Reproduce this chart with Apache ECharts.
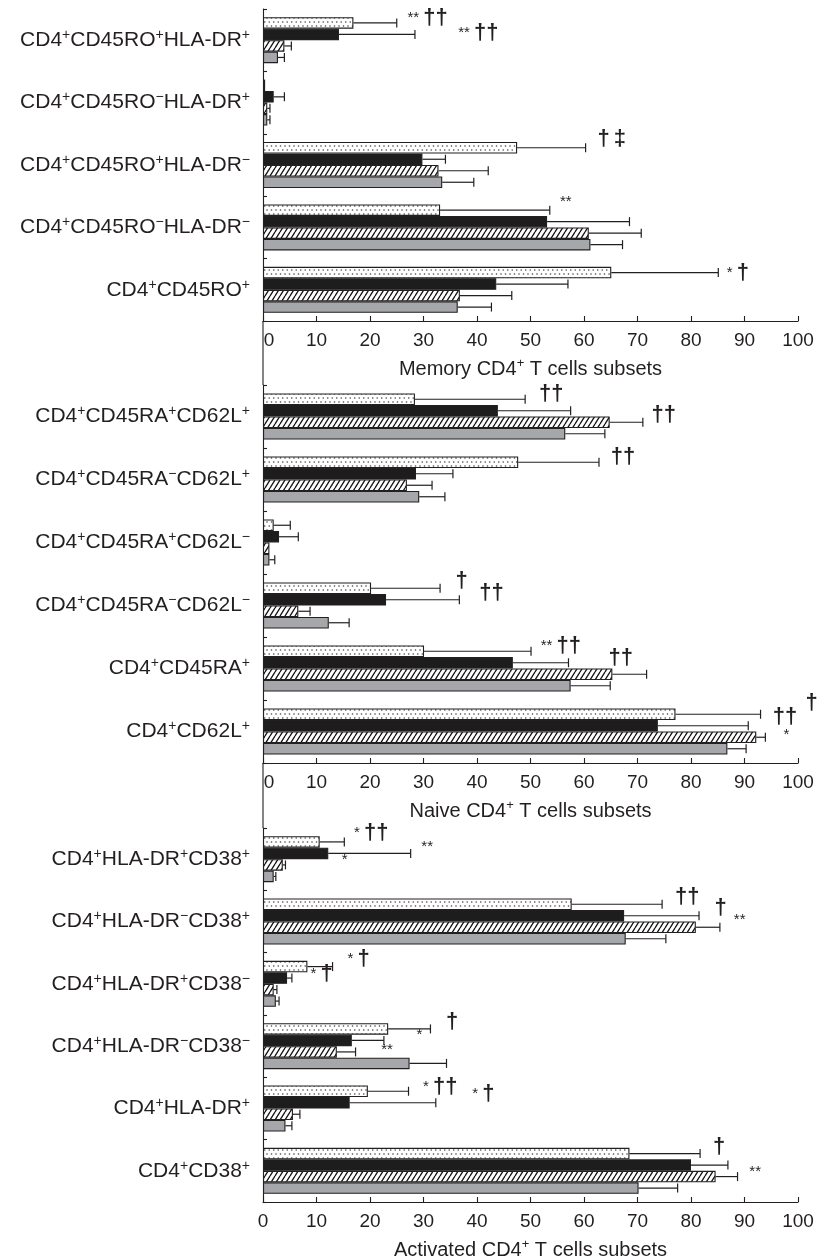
<!DOCTYPE html>
<html><head><meta charset="utf-8">
<script src="https://cdn.jsdelivr.net/npm/echarts@6/dist/echarts.min.js"></script>
<style>html,body{margin:0;padding:0;background:#fff}#c{width:819px;height:1260px}</style>
</head><body><div id="c"></div>
<script>
// ---------- DATA ----------
var xTicks = [0, 10, 20, 30, 40, 50, 60, 70, 80, 90, 100];

var memCats = ['CD4+CD45RO+HLA-DR+', 'CD4+CD45RO−HLA-DR+', 'CD4+CD45RO+HLA-DR−', 'CD4+CD45RO−HLA-DR−', 'CD4+CD45RO+'];
var memDotted   = [16.9, 0.4, 47.5, 33.1, 65.1];
var memBlack    = [14.2, 2.0, 29.8, 53.1, 43.6];
var memHatched  = [4.0, 0.8, 32.8, 60.9, 36.8];
var memGray     = [2.8, 0.8, 33.5, 61.2, 36.4];
var memDottedSD = [8.1, 0, 12.8, 20.5, 20.0];
var memBlackSD  = [14.2, 2.0, 4.3, 15.4, 13.4];
var memHatchedSD= [1.3, 0.5, 9.3, 9.8, 9.7];
var memGraySD   = [1.2, 0.5, 5.9, 6.0, 6.3];
var memNotes    = [[27, 0, -0.4], [36.5, 0, 0.9], [62.5, 2, -0.8], [55.5, 3, -0.7], [86.7, 4, 0]];
var memNoteText = ['** ††', '** ††', '† ‡', '**', '* †'];

var naiveCats = ['CD4+CD45RA+CD62L+', 'CD4+CD45RA−CD62L+', 'CD4+CD45RA+CD62L−', 'CD4+CD45RA−CD62L−', 'CD4+CD45RA+', 'CD4+CD62L+'];
var naiveDotted   = [28.4, 47.7, 2.0, 20.2, 30.1, 77.1];
var naiveBlack    = [43.9, 28.6, 3.0, 23.0, 46.7, 73.8];
var naiveHatched  = [64.8, 26.9, 1.2, 6.6, 65.3, 92.2];
var naiveGray     = [56.5, 29.2, 1.2, 12.3, 57.5, 86.8];
var naiveDottedSD = [20.6, 15.1, 3.1, 12.9, 20.0, 15.9];
var naiveBlackSD  = [13.6, 6.9, 3.6, 13.7, 10.4, 16.9];
var naiveHatchedSD= [6.2, 4.7, 0, 2.2, 6.4, 1.7];
var naiveGraySD   = [7.4, 4.8, 1.0, 3.8, 7.4, 3.5];
var naiveNotes    = [[51.6, 0, -0.5], [72.6, 0, 1.4], [65, 1, -0.5], [36, 3, -0.6], [40.4, 3, 0.45], [51.9, 4, -0.5], [64.6, 4, 0.6], [95.3, 5, 0.25], [101.4, 5, -0.95], [97.3, 5, 1.75]];
var naiveNoteText = ['††', '††', '††', '†', '††', '** ††', '††', '††', '†', '*'];

var actCats = ['CD4+HLA-DR+CD38+', 'CD4+HLA-DR−CD38+', 'CD4+HLA-DR+CD38−', 'CD4+HLA-DR−CD38−', 'CD4+HLA-DR+', 'CD4+CD38+'];
var actDotted   = [10.6, 57.7, 8.3, 23.4, 19.6, 68.5];
var actBlack    = [12.2, 67.5, 4.5, 16.6, 16.2, 80.0];
var actHatched  = [3.7, 80.9, 2.0, 13.8, 5.6, 84.6];
var actGray     = [2.0, 67.8, 2.4, 27.4, 4.2, 70.2];
var actDottedSD = [4.6, 16.9, 4.7, 7.9, 7.6, 13.2];
var actBlackSD  = [15.4, 14.0, 0.9, 6.0, 16.1, 6.9];
var actHatchedSD= [0.5, 4.5, 0.6, 3.5, 1.3, 4.1];
var actGraySD   = [0.4, 7.5, 0.6, 6.9, 1.2, 7.3];
var actNotes    = [[17, 0, -0.8], [29.6, 0, 0.4], [14.7, 0, 1.6], [77, 1, -0.6], [84.4, 1, 0.3], [88, 1, 1.4], [15.8, 2, -0.7], [8.9, 2, 0.6], [34.2, 3, -0.6], [28.7, 3, 0.5], [22.1, 3, 1.8], [29.9, 4, -0.35], [39.1, 4, 0.2], [84.1, 5, -0.6], [90.9, 5, 1.6]];
var actNoteText = ['* ††', '**', '*', '††', '†', '**', '* †', '* †', '†', '*', '**', '* ††', '* †', '†', '**'];

var memTitle = 'Memory CD4+ T cells subsets';
var naiveTitle = 'Naive CD4+ T cells subsets';
var actTitle = 'Activated CD4+ T cells subsets';

// ---------- STYLE / LAYOUT ----------
var FONT = '"Liberation Sans", Arial, Helvetica, sans-serif';
var INK = '#231f20';
var BW = 11.5;
var LEFT = 263, RIGHT = 21;
var sections = [
  {cats: memCats, vals: [memDotted, memBlack, memHatched, memGray], sd: [memDottedSD, memBlackSD, memHatchedSD, memGraySD], notes: memNotes, noteText: memNoteText, title: memTitle, top: 9, height: 312, shiftZero: true},
  {cats: naiveCats, vals: [naiveDotted, naiveBlack, naiveHatched, naiveGray], sd: [naiveDottedSD, naiveBlackSD, naiveHatchedSD, naiveGraySD], notes: naiveNotes, noteText: naiveNoteText, title: naiveTitle, top: 385, height: 378, shiftZero: true},
  {cats: actCats, vals: [actDotted, actBlack, actHatched, actGray], sd: [actDottedSD, actBlackSD, actHatchedSD, actGraySD], notes: actNotes, noteText: actNoteText, title: actTitle, top: 828, height: 374, shiftZero: false}
];

function makeDots() {
  var c = document.createElement('canvas'); c.width = 9; c.height = 8;
  var g = c.getContext('2d');
  g.fillStyle = '#fff'; g.fillRect(0, 0, 9, 8);
  g.fillStyle = '#444';
  [[1.5, 2], [6, 2], [3.75, 6], [8.25, 6]].forEach(function (p) { g.beginPath(); g.arc(p[0], p[1], 0.8, 0, Math.PI * 2); g.fill(); });
  return c;
}
function makeHatch() {
  var c = document.createElement('canvas'); c.width = 5; c.height = 8;
  var g = c.getContext('2d');
  g.fillStyle = '#fff'; g.fillRect(0, 0, 5, 8);
  g.strokeStyle = '#111'; g.lineWidth = 1.3;
  g.beginPath();
  [-5, 0, 5].forEach(function (o) { g.moveTo(o, 8); g.lineTo(o + 5, 0); });
  g.stroke();
  return c;
}
var fills = [{image: makeDots(), repeat: 'repeat'}, '#1d1d1d', {image: makeHatch(), repeat: 'repeat'}, '#a5a7aa'];

function supRich(s) {
  var out = '', buf = '';
  for (var i = 0; i < s.length; i++) {
    var ch = s[i];
    if (ch === '+' || ch === '−') {
      if (buf) { out += '{m|' + buf + '}'; buf = ''; }
      out += '{s|' + ch + '}';
    } else buf += ch;
  }
  if (buf) out += '{m|' + buf + '}';
  return out;
}
var labelRich = {
  m: {fontSize: 21, fontFamily: FONT, color: INK, lineHeight: 24},
  s: {fontSize: 14, fontFamily: FONT, color: INK, verticalAlign: 'top', lineHeight: 8}
};
var nameRich = {
  m: {fontSize: 20, fontFamily: FONT, color: INK, lineHeight: 24},
  s: {fontSize: 13, fontFamily: FONT, color: INK, verticalAlign: 'top', lineHeight: 8}
};
function noteRich(t) {
  return t.split(' ').map(function (tok) {
    return tok.indexOf('*') >= 0 ? '{a|' + tok + '}' : '{d|' + tok + '}';
  }).join('{a| }');
}
var noteRichStyle = {
  a: {fontSize: 15, fontFamily: FONT, fill: INK},
  d: {fontSize: 22, fontFamily: FONT, fontWeight: 'bold', fill: INK}
};

var grids = [], xAxes = [], yAxes = [], series = [], graphics = [];
sections.forEach(function (sec, i) {
  grids.push({left: LEFT, right: RIGHT, top: sec.top, height: sec.height, outerBoundsMode: 'none', containLabel: false});
  xAxes.push({
    type: 'value', gridIndex: i, min: xTicks[0], max: xTicks[xTicks.length - 1], interval: xTicks[1] - xTicks[0],
    axisLine: {show: true, lineStyle: {color: INK, width: 1.1}},
    axisTick: {show: true, inside: true, length: 5, lineStyle: {color: INK, width: 1.1}},
    splitLine: {show: false},
    axisLabel: {
      fontSize: 19, fontFamily: FONT, color: INK, margin: 10,
      formatter: (function (shift) { return function (v) { return (shift && v === 0) ? '{z|0}' : String(v); }; })(sec.shiftZero),
      rich: {z: {fontSize: 19, fontFamily: FONT, color: INK, padding: [0, 0, 0, 12]}}
    },
    name: supRich(sec.title), nameLocation: 'middle', nameGap: 36,
    nameTextStyle: {rich: nameRich}
  });
  yAxes.push({
    type: 'category', gridIndex: i, data: sec.cats, inverse: true,
    axisLine: {show: true, lineStyle: {color: INK, width: 1.1}},
    axisTick: {show: true, inside: true, length: 4, lineStyle: {color: INK, width: 1.1}},
    axisLabel: {margin: 13, formatter: supRich, rich: labelRich},
    splitLine: {show: false}
  });
  for (var j = 0; j < 4; j++) {
    series.push({
      type: 'bar', xAxisIndex: i, yAxisIndex: i, data: sec.vals[j], barWidth: BW, barGap: '0%',
      itemStyle: {color: fills[j], borderColor: INK, borderWidth: 1.1}, silent: true, z: 2
    });
  }
  var errData = [];
  for (var j2 = 0; j2 < 4; j2++) {
    for (var k = 0; k < sec.cats.length; k++) {
      if (sec.sd[j2][k] > 0) errData.push([sec.vals[j2][k], sec.vals[j2][k] + sec.sd[j2][k], k, j2]);
    }
  }
  series.push({
    type: 'custom', xAxisIndex: i, yAxisIndex: i, data: errData, encode: {x: [0, 1], y: 2}, z: 3, silent: true, clip: false,
    renderItem: function (params, api) {
      var v = api.value(0), e = api.value(1), c = api.value(2), s = api.value(3);
      var p0 = api.coord([v, c]), p1 = api.coord([e, c]);
      var y = p0[1] + (s - 1.5) * BW;
      return {type: 'group', children: [
        {type: 'line', shape: {x1: p0[0], y1: y, x2: p1[0], y2: y}, style: {stroke: INK, lineWidth: 1.2}},
        {type: 'line', shape: {x1: p1[0], y1: y - 4.5, x2: p1[0], y2: y + 4.5}, style: {stroke: INK, lineWidth: 1.2}}
      ]};
    }
  });
  series.push({
    type: 'custom', xAxisIndex: i, yAxisIndex: i, data: sec.notes, encode: {x: 0, y: 1}, z: 4, silent: true, clip: false,
    renderItem: (function (texts) {
      return function (params, api) {
        var p = api.coord([api.value(0), api.value(1)]);
        var y = p[1] + (-1.5 + api.value(2)) * BW;
        return {type: 'text', x: p[0], y: y, style: {text: noteRich(texts[params.dataIndex]), rich: noteRichStyle, align: 'left', verticalAlign: 'middle', fill: INK}};
      };
    })(sec.noteText)
  });
});
// continuous left axis line between panels
for (var g = 0; g < sections.length - 1; g++) {
  graphics.push({type: 'line', silent: true, shape: {x1: LEFT, y1: sections[g].top + sections[g].height, x2: LEFT, y2: sections[g + 1].top}, style: {stroke: INK, lineWidth: 1.1}});
}

var chart = echarts.init(document.getElementById('c'), null, {renderer: 'canvas'});
chart.setOption({
  animation: false,
  backgroundColor: '#fff',
  textStyle: {fontFamily: FONT},
  grid: grids, xAxis: xAxes, yAxis: yAxes, series: series, graphic: graphics
});
</script></body></html>
